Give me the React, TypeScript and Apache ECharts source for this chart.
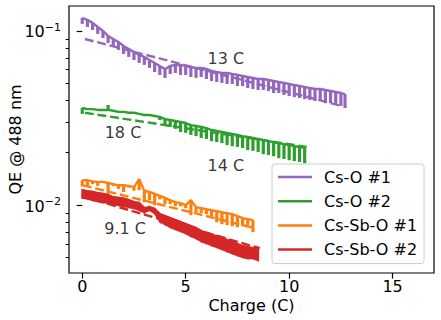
import React, { useEffect, useRef } from "react";
import * as echarts from "echarts";

// shared charge grid (C)
const charge = [0, 0.25, 0.5, 0.75, 1, 1.25, 1.5, 1.75, 2, 2.25, 2.5, 2.75, 3, 3.25, 3.5, 3.75, 4, 4.25, 4.5, 4.75, 5, 5.25, 5.5, 5.75, 6, 6.25, 6.5, 6.75, 7, 7.25, 7.5, 7.75, 8, 8.25, 8.5, 8.75, 9, 9.25, 9.5, 9.75, 10, 10.25, 10.5, 10.75, 11, 11.25, 11.5, 11.75, 12, 12.25, 12.5, 12.7];

// Cs-O #1 (upper edge and dips)
const csO1Top = [0.1188, 0.1157, 0.1112, 0.1054, 0.1000, 0.0936, 0.0899, 0.0864, 0.0820, 0.0788, 0.0757, 0.0728, 0.0709, 0.0681, 0.0655, 0.0629, 0.0605, 0.0629, 0.0638, 0.0638, 0.0629, 0.0621, 0.0613, 0.0613, 0.0605, 0.0589, 0.0581, 0.0574, 0.0574, 0.0566, 0.0559, 0.0551, 0.0544, 0.0537, 0.0530, 0.0530, 0.0523, 0.0516, 0.0509, 0.0503, 0.0496, 0.0489, 0.0483, 0.0477, 0.0470, 0.0464, 0.0464, 0.0458, 0.0452, 0.0446, 0.0440, 0.0434];
const csO1Dip = [0.1097, 0.1054, 0.1013, 0.0961, 0.0911, 0.0853, 0.0809, 0.0778, 0.0738, 0.0709, 0.0681, 0.0655, 0.0638, 0.0613, 0.0581, 0.0559, 0.0537, 0.0566, 0.0574, 0.0559, 0.0559, 0.0544, 0.0537, 0.0544, 0.0530, 0.0516, 0.0509, 0.0503, 0.0496, 0.0496, 0.0483, 0.0483, 0.0470, 0.0464, 0.0458, 0.0458, 0.0452, 0.0440, 0.0440, 0.0429, 0.0423, 0.0417, 0.0412, 0.0406, 0.0401, 0.0396, 0.0396, 0.0385, 0.0385, 0.0380, 0.0371, 0.0361];

// Cs-O #2
const csO2Top = [0.0361, 0.0356, 0.0356, 0.0352, 0.0352, 0.0352, 0.0348, 0.0343, 0.0343, 0.0339, 0.0339, 0.0334, 0.0329, 0.0329, 0.0325, 0.0321, 0.0312, 0.0308, 0.0304, 0.0300, 0.0296, 0.0288, 0.0285, 0.0281, 0.0277, 0.0270, 0.0267, 0.0263, 0.0260, 0.0256, 0.0253, 0.0249, 0.0246, 0.0243, 0.0240, 0.0236, 0.0233, 0.0230, 0.0227, 0.0224, 0.0221, 0.0218, 0.0216, 0.0213];
const csO2Dip = [0.0334, 0.0356, 0.0356, 0.0352, 0.0352, 0.0376, 0.0348, 0.0343, 0.0343, 0.0339, 0.0339, 0.0334, 0.0329, 0.0329, 0.0325, 0.0308, 0.0285, 0.0281, 0.0274, 0.0263, 0.0260, 0.0253, 0.0249, 0.0243, 0.0240, 0.0233, 0.0230, 0.0227, 0.0221, 0.0218, 0.0216, 0.0213, 0.0207, 0.0205, 0.0202, 0.0196, 0.0194, 0.0191, 0.0186, 0.0184, 0.0181, 0.0179, 0.0177, 0.0174];

// Cs-Sb-O #1
const csSbO1Top = [0.0139, 0.0139, 0.0137, 0.0136, 0.0136, 0.0134, 0.0132, 0.0130, 0.0130, 0.0129, 0.0127, 0.0141, 0.0121, 0.0119, 0.0116, 0.0113, 0.0110, 0.01068, 0.01041, 0.01027, 0.0100, 0.01068, 0.00974, 0.00961, 0.00948, 0.00936, 0.00923, 0.00911, 0.00900, 0.00888, 0.00864, 0.00842, 0.00831, 0.00820];
const csSbO1Dip = [0.0128, 0.0129, 0.0132, 0.0129, 0.0136, 0.0114, 0.0129, 0.0124, 0.0119, 0.0126, 0.0121, 0.0122, 0.01041, 0.01068, 0.0100, 0.0108, 0.01013, 0.01013, 0.00987, 0.00987, 0.00961, 0.00876, 0.00911, 0.00900, 0.00888, 0.00864, 0.00798, 0.00778, 0.00768, 0.00757, 0.00748, 0.00757, 0.00768, 0.00700];

// Cs-Sb-O #2
const csSbO2Top = [0.0122, 0.0120, 0.0119, 0.0117, 0.0116, 0.0114, 0.0111, 0.0110, 0.0109, 0.01068, 0.01041, 0.01027, 0.00961, 0.00974, 0.00948, 0.00888, 0.00864, 0.00842, 0.00820, 0.00798, 0.00778, 0.00757, 0.00738, 0.00709, 0.00690, 0.00673, 0.00664, 0.00646, 0.00630, 0.00613, 0.00597, 0.00581, 0.00574, 0.00566, 0.00566];
const csSbO2Dip = [0.0110, 0.0109, 0.01068, 0.01054, 0.01041, 0.01027, 0.01013, 0.0100, 0.00987, 0.00974, 0.00961, 0.00936, 0.00911, 0.00936, 0.00900, 0.00809, 0.00778, 0.00748, 0.00728, 0.00709, 0.00690, 0.00664, 0.00646, 0.00621, 0.00605, 0.00589, 0.00574, 0.00559, 0.00544, 0.00530, 0.00516, 0.00503, 0.00496, 0.00496, 0.00483];

// exponential fits (end points)
const fit1X = [0.13, 12.54];
const fit1Y = [0.0899, 0.0371];
const fit2X = [0.13, 10.85];
const fit2Y = [0.0339, 0.0216];
const fit3X = [0.03, 8.34];
const fit3Y = [0.0130, 0.00738];
const fit4X = [0.03, 8.58];
const fit4Y = [0.0112, 0.00566];

// annotations
const noteText = ["13 C", "18 C", "14 C", "9.1 C"];
const noteX = [6.94, 1.97, 6.94, 2.07];
const noteY = [0.069, 0.026, 0.017, 0.00738];

const seriesNames = ["Cs-O #1", "Cs-O #2", "Cs-Sb-O #1", "Cs-Sb-O #2"];
const colors = ["#9467bd", "#2ca02c", "#ff7f0e", "#d62728"];

const xTicks = [0, 5, 10, 15];
const yMajor = [0.01, 0.1];
const yMinor = [0.005, 0.006, 0.007, 0.008, 0.009, 0.02, 0.03, 0.04, 0.05, 0.06, 0.07, 0.08, 0.09];

const LW = 2.4;
const FONT = "DejaVu Sans";

function buildOption() {
  const tops = [csO1Top, csO2Top, csSbO1Top, csSbO2Top];
  const dips = [csO1Dip, csO2Dip, csSbO1Dip, csSbO2Dip];
  const fitsX = [fit1X, fit2X, fit3X, fit4X];
  const fitsY = [fit1Y, fit2Y, fit3Y, fit4Y];
  const series: any[] = [];

  tops.forEach((top, k) => {
    const dip = dips[k];
    const color = colors[k];
    const band = k === 3;
    series.push({
      type: "custom",
      name: seriesNames[k] + " spread",
      data: top.map((v, i) => [charge[i], v, dip[i]]),
      encode: { x: 0, y: [1, 2] },
      z: 2,
      silent: true,
      renderItem: (params: any, api: any) => {
        const i = params.dataIndex;
        if (band) {
          if (i >= top.length - 1) return null;
          const a = api.coord([charge[i], top[i]]);
          const b = api.coord([charge[i + 1], top[i + 1]]);
          const c = api.coord([charge[i + 1], dip[i + 1]]);
          const d = api.coord([charge[i], dip[i]]);
          return {
            type: "polygon",
            shape: { points: [a, b, c, d] },
            style: { fill: color, stroke: color, lineWidth: 2 },
          };
        }
        const p1 = api.coord([api.value(0), api.value(1)]);
        const p2 = api.coord([api.value(0), api.value(2)]);
        return {
          type: "line",
          shape: { x1: p1[0], y1: p1[1], x2: p2[0], y2: p2[1] },
          style: { stroke: color, lineWidth: 3.2 },
        };
      },
    });
    series.push({
      type: "line",
      name: seriesNames[k],
      data: top.map((v, i) => [charge[i], v]),
      showSymbol: false,
      symbol: "none",
      z: 3,
      color,
      itemStyle: { color },
      lineStyle: { color, width: LW },
    });
    series.push({
      type: "line",
      name: seriesNames[k] + " fit",
      data: fitsX[k].map((x, i) => [x, fitsY[k][i]]),
      showSymbol: false,
      symbol: "none",
      z: 4,
      lineStyle: { color, width: LW, type: [8.9, 3.8] },
      itemStyle: { color },
      silent: true,
    });
  });

  series.push({
    type: "scatter",
    name: "notes",
    data: noteX.map((x, i) => [x, noteY[i], noteText[i]]),
    symbolSize: 1,
    itemStyle: { color: "rgba(0,0,0,0)" },
    silent: true,
    z: 6,
    label: {
      show: true,
      position: "inside",
      formatter: (p: any) => p.value[2],
      fontSize: 16,
      fontFamily: FONT,
      color: "#000",
    },
  });

  const supFmt = (v: number) => {
    const e = Math.round(Math.log10(v));
    return "{b|10}{s|\u2212" + Math.abs(e) + "}";
  };

  return {
    animation: false,
    textStyle: { fontFamily: FONT },
    grid: {
      left: 69,
      top: 6,
      width: 365,
      height: 267,
      show: true,
      borderColor: "#000",
      borderWidth: 1.2,
      backgroundColor: "transparent",
      containLabel: false,
      outerBoundsMode: "none",
    },
    xAxis: {
      type: "value",
      min: -0.64,
      max: 17,
      name: "Charge (C)",
      nameLocation: "middle",
      nameGap: 24,
      nameMoveOverlap: false,
      nameTextStyle: { fontSize: 16, color: "#000", fontFamily: FONT },
      axisLine: { show: false },
      splitLine: { show: false },
      axisTick: { show: true, length: 5.6, customValues: xTicks, lineStyle: { color: "#000", width: 1.2 } },
      axisLabel: { customValues: xTicks, fontSize: 16, color: "#000", margin: 5, fontFamily: FONT },
    },
    yAxis: [
      {
        type: "log",
        logBase: 10,
        min: 0.00408,
        max: 0.139,
        name: "QE @ 488 nm",
        nameLocation: "middle",
        nameGap: 46,
        nameMoveOverlap: false,
        nameTextStyle: { fontSize: 16, color: "#000", fontFamily: FONT },
        axisLine: { show: false },
        splitLine: { show: false },
        minorTick: { show: false },
        axisTick: { show: true, length: 5.6, customValues: yMajor, lineStyle: { color: "#000", width: 1.2 } },
        axisLabel: {
          customValues: yMajor,
          margin: 8,
          formatter: supFmt,
          rich: {
            b: { fontSize: 16, fontFamily: FONT, color: "#000", lineHeight: 18, verticalAlign: "bottom" },
            s: { fontSize: 11, fontFamily: FONT, color: "#000", lineHeight: 11, verticalAlign: "top" },
          },
        },
      },
      {
        type: "log",
        logBase: 10,
        min: 0.00408,
        max: 0.139,
        position: "left",
        axisLine: { show: false },
        splitLine: { show: false },
        axisTick: { show: true, length: 3.2, customValues: yMinor, lineStyle: { color: "#000", width: 1 } },
        axisLabel: { show: false },
      },
    ],
    legend: {
      data: seriesNames,
      orient: "vertical",
      left: 272,
      top: 164,
      padding: [4, 7, 5, 6],
      itemWidth: 34,
      itemHeight: 2.5,
      itemGap: 6.2,
      icon: "rect",
      selectedMode: false,
      backgroundColor: "rgba(255,255,255,0.8)",
      borderColor: "#cccccc",
      borderWidth: 1,
      borderRadius: 3,
      textStyle: { fontSize: 16, color: "#000", fontFamily: FONT, lineHeight: 18, padding: [0, 0, 0, 7] },
    },
    series,
  };
}

export default function App() {
  const ref = useRef<HTMLDivElement>(null);
  useEffect(() => {
    if (!ref.current) return;
    const chart = echarts.init(ref.current, undefined, { renderer: "svg" });
    chart.setOption(buildOption() as any);
    return () => chart.dispose();
  }, []);
  return (
    <div
      ref={ref}
      style={{ position: "absolute", left: 0, top: 0, width: 441, height: 320, background: "#fff" }}
    />
  );
}
